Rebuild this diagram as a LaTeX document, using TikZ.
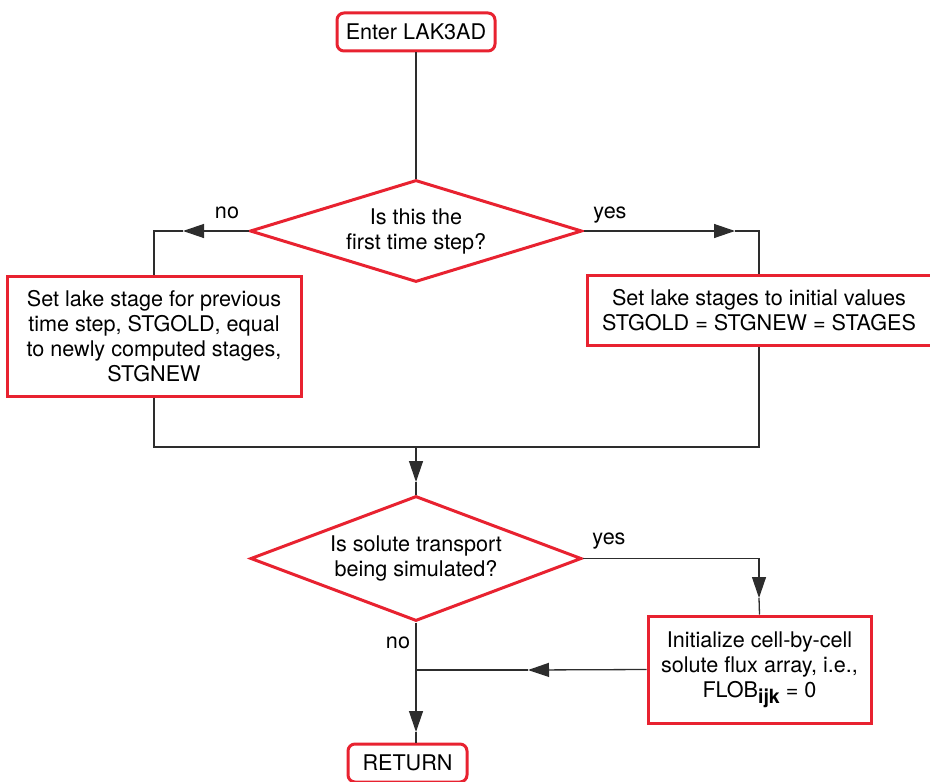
\documentclass[tikz,border=0pt]{standalone}
\usepackage{fontspec}
\setmainfont{TeX Gyre Heros}
\usetikzlibrary{shapes.geometric,arrows.meta}
\definecolor{flowred}{RGB}{232,34,48}
\definecolor{flowline}{RGB}{45,45,45}
\tikzset{
  box/.style={draw=flowred, line width=1.5pt, align=center, inner sep=0pt},
  endbox/.style={box, rounded corners=3.5pt},
  ask/.style={box, diamond},
  link/.style={draw=flowline, line width=0.65pt},
  tip/.style={link, -{Triangle[length=10.5pt,width=7pt]}},
}
\begin{document}
\begin{tikzpicture}[x=0.5pt, y=-0.5pt, font=\fontsize{10.8}{12.5}\selectfont]
\useasboundingbox (0,0) rectangle (930,781);
\node [endbox, minimum width=79pt, minimum height=19pt] (enter) at (416,32) {Enter LAK3AD};
\node [ask, shape aspect=3.25, minimum width=166pt, minimum height=51pt] (first) at (416,231) {Is this the\\first time step?};
\node [box, minimum width=147pt, minimum height=60pt] (oldstg) at (154,336) {Set lake stage for previous\\time step, STGOLD, equal\\to newly computed stages,\\STGNEW};
\node [box, minimum width=172pt, minimum height=35pt] (initstg) at (759,310) {Set lake stages to initial values\\STGOLD = STGNEW = STAGES};
\node [ask, shape aspect=2.65, minimum width=165.5pt, minimum height=62.5pt] (solute) at (416,558.5) {Is solute transport\\being simulated?};
\node [box, minimum width=111.5pt, minimum height=53.5pt] (flob) at (759.5,669.5) {Initialize cell-by-cell\\solute flux array, i.e.,\\FLOB\raisebox{-0.55ex}{\fontsize{9.8}{10}\selectfont\bfseries ijk} = 0};
\node [endbox, minimum width=59.5pt, minimum height=19pt] (ret) at (407.5,763) {RETURN};
\node (no1) at (227,213) {no};
\node (yes1) at (610,215) {yes};
\node (yes2) at (609,541) {yes};
\node (no2) at (398,643) {no};
\coordinate (a1) at (183,231);
\coordinate (a2) at (735,231);
\coordinate (j1) at (416,447);
\coordinate (a3) at (416,482);
\coordinate (a4) at (759,598);
\coordinate (a5) at (528,670);
\coordinate (j2) at (416,670);
\coordinate (a6) at (416,732);
\draw [link] (enter) -- (first);
\draw [tip] (first.west) -- (a1);
\draw [link] (a1) -| (oldstg.north);
\draw [tip] (first.east) -- (a2);
\draw [link] (a2) -| (initstg.north);
\draw [link] (oldstg.south) |- (j1) -| (initstg.south);
\draw [tip] (j1) -- (a3);
\draw [link] (a3) -- (solute.north);
\draw [tip] (solute.east) -| (a4);
\draw [link] (a4) -- (flob.north);
\draw [tip] (flob.west) -- (a5);
\draw [link] (a5) -- (j2);
\draw [tip] (solute.south) -- (a6);
\draw [link] (a6) -- (a6 |- ret.north);
\end{tikzpicture}
\end{document}
